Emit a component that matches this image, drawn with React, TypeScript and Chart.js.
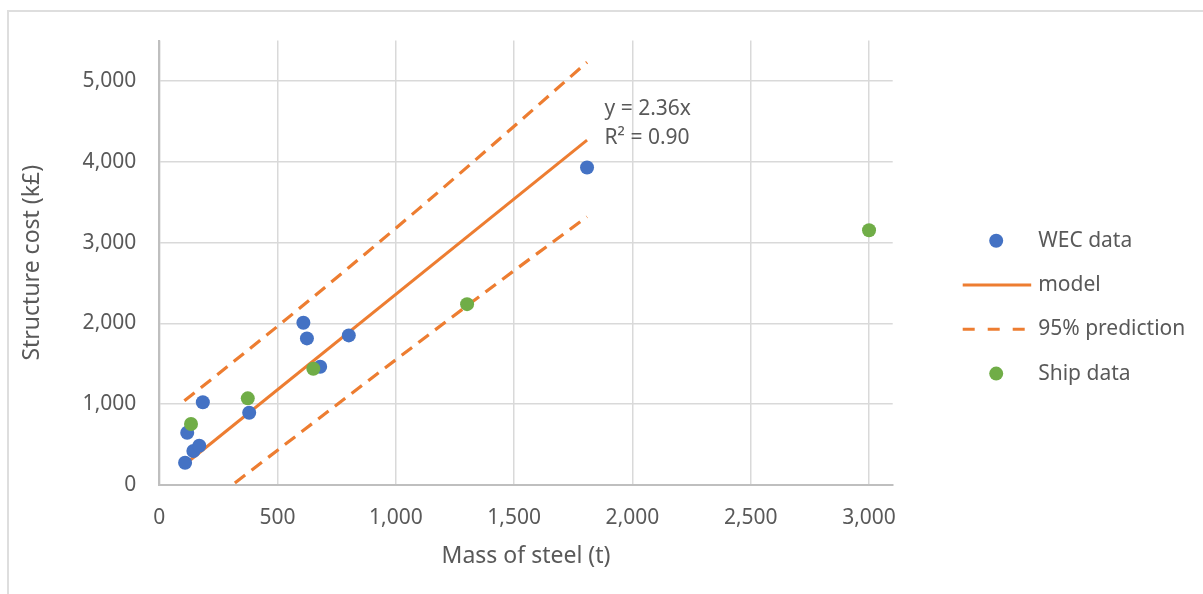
import { useEffect, useRef } from "react";
import { Chart, registerables } from "chart.js";
Chart.register(...registerables);

const FONT = "'Noto Sans', 'DejaVu Sans', sans-serif";
const TEXT = "#595959";
const BLUE = "#4472C4";
const ORANGE = "#ED7D31";
const GREEN = "#70AD47";

// WEC data (mass of steel t, structure cost k£)
const wecMass = [109, 118, 144, 169, 184, 380, 609, 624, 680, 801, 1808];
const wecCost = [276, 647, 420, 486, 1023, 894, 2007, 1814, 1463, 1851, 3929];

// Ship data
const shipMass = [134, 374, 651, 1301, 3000];
const shipCost = [754, 1072, 1438, 2238, 3153];

// Model trend line y = 2.36x over WEC data range
const modelMass = [109, 1808];
const modelCost = [257, 4267];

// 95% prediction band
const bandMass = [106, 300, 500, 800, 1100, 1400, 1808];
const upperCost = [1042, 1493, 1964, 2688, 3426, 4184, 5231];
const lowerCost = [-440, -17, 431, 1104, 1773, 2435, 3320];

// Axis ticks
const xTickValues = [0, 500, 1000, 1500, 2000, 2500, 3000];
const yTickValues = [0, 1000, 2000, 3000, 4000, 5000];

const legendLabels = ["WEC data", "model", "95% prediction", "Ship data"];
const equationText = ["y = 2.36x", "R\u00B2 = 0.90"];
const xTitle = "Mass of steel (t)";
const yTitle = "Structure cost (k\u00A3)";

const toPts = (xs: number[], ys: number[]) => xs.map((x, i) => ({ x, y: ys[i] }));

const legendPlugin = {
  id: "excelLegend",
  afterDraw(chart: any) {
    const ctx = chart.ctx as CanvasRenderingContext2D;
    const ca = chart.chartArea;
    const lineStart = ca.right + 70;
    const lineEnd = ca.right + 138.5;
    const dotX = ca.right + 103.5;
    const textX = ca.right + 145.5;
    const rowY0 = 240.7;
    const step = 44.3;
    ctx.save();
    ctx.font = `21px ${FONT}`;
    ctx.fillStyle = TEXT;
    ctx.textBaseline = "middle";
    ctx.textAlign = "left";
    legendLabels.forEach((label, i) => {
      const y = rowY0 + i * step;
      ctx.save();
      if (i === 0 || i === 3) {
        ctx.fillStyle = i === 0 ? BLUE : GREEN;
        ctx.beginPath();
        ctx.arc(dotX, y, 7, 0, Math.PI * 2);
        ctx.fill();
      } else {
        ctx.strokeStyle = ORANGE;
        ctx.lineWidth = 3;
        ctx.setLineDash(i === 2 ? [12, 13] : []);
        ctx.beginPath();
        ctx.moveTo(lineStart, y);
        ctx.lineTo(lineEnd, y);
        ctx.stroke();
      }
      ctx.restore();
      ctx.fillText(label, textX, y);
    });
    ctx.restore();
  },
};

const equationPlugin = {
  id: "equation",
  afterDatasetsDraw(chart: any) {
    const ctx = chart.ctx as CanvasRenderingContext2D;
    const xs = chart.scales.x;
    const ys = chart.scales.y;
    const px = xs.getPixelForValue(modelMass[1]);
    const py = ys.getPixelForValue(modelCost[1]);
    ctx.save();
    ctx.font = `21px ${FONT}`;
    ctx.fillStyle = TEXT;
    ctx.textBaseline = "middle";
    ctx.textAlign = "left";
    ctx.fillText(equationText[0], px + 17.5, py - 31);
    ctx.fillText(equationText[1], px + 17.5, py - 2);
    ctx.restore();
  },
};

export default function App() {
  const ref = useRef<HTMLCanvasElement>(null);
  useEffect(() => {
    document.body.style.overflow = "hidden";
    const chart = new Chart(ref.current!, {
      type: "scatter",
      data: {
        datasets: [
          {
            label: "Ship data",
            data: toPts(shipMass, shipCost),
            backgroundColor: GREEN,
            borderColor: GREEN,
            pointRadius: 7,
            pointBorderWidth: 0,
            order: 0,
          },
          {
            label: "WEC data",
            data: toPts(wecMass, wecCost),
            backgroundColor: BLUE,
            borderColor: BLUE,
            pointRadius: 7,
            pointBorderWidth: 0,
            order: 1,
          },
          {
            type: "line",
            label: "model",
            data: toPts(modelMass, modelCost),
            borderColor: ORANGE,
            borderWidth: 3,
            pointRadius: 0,
            showLine: true,
            fill: false,
            order: 2,
          },
          {
            type: "line",
            label: "95% prediction",
            data: toPts(bandMass, upperCost),
            borderColor: ORANGE,
            borderWidth: 3.2,
            borderDash: [13, 8],
            pointRadius: 0,
            showLine: true,
            fill: false,
            cubicInterpolationMode: "monotone",
            order: 3,
          },
          {
            type: "line",
            label: "95% prediction (lower)",
            data: toPts(bandMass, lowerCost),
            borderColor: ORANGE,
            borderWidth: 3.2,
            borderDash: [13, 8],
            pointRadius: 0,
            showLine: true,
            fill: false,
            cubicInterpolationMode: "monotone",
            order: 4,
          },
        ] as any,
      },
      options: {
        animation: false,
        responsive: false,
        maintainAspectRatio: false,
        locale: "en-US",
        layout: { padding: { top: 40.5, right: 310.3, left: 0, bottom: 0 } },
        plugins: {
          legend: { display: false },
          tooltip: { enabled: false },
        },
        scales: {
          x: {
            type: "linear",
            min: 0,
            max: 3100,
            afterBuildTicks: (s: any) => {
              s.ticks = xTickValues.map((v) => ({ value: v }));
            },
            ticks: {
              color: TEXT,
              font: { family: FONT, size: 21 },
              padding: 20,
              maxRotation: 0,
              autoSkip: false,
            },
            grid: { color: "#d9d9d9", lineWidth: 1.5, drawTicks: false },
            border: { color: "#bfbfbf", width: 2 },
            title: {
              display: true,
              text: xTitle,
              color: TEXT,
              font: { family: FONT, size: 23 },
              padding: { top: 0, bottom: 24 },
            },
            afterFit: (s: any) => {
              s.height = 109;
              s.paddingLeft = 0;
              s.paddingRight = 0;
            },
          },
          y: {
            type: "linear",
            min: 0,
            max: 5500,
            afterBuildTicks: (s: any) => {
              s.ticks = yTickValues.map((v) => ({ value: v }));
            },
            ticks: {
              color: TEXT,
              font: { family: FONT, size: 21 },
              padding: 23,
              autoSkip: false,
            },
            grid: { color: "#d9d9d9", lineWidth: 1.5, drawTicks: false },
            border: { color: "#bfbfbf", width: 2 },
            title: {
              display: true,
              text: yTitle,
              color: TEXT,
              font: { family: FONT, size: 23 },
              padding: { top: 19, bottom: 0 },
            },
            afterFit: (s: any) => {
              s.width = 159.3;
              s.paddingTop = 0;
              s.paddingBottom = 0;
            },
          },
        },
      },
      plugins: [legendPlugin, equationPlugin],
    });
    return () => chart.destroy();
  }, []);

  return (
    <div
      style={{
        position: "fixed",
        left: 0,
        top: 0,
        width: 1203,
        height: 594,
        background: "#fff",
        overflow: "hidden",
      }}
    >
      <div
        style={{
          position: "absolute",
          left: 7,
          top: 10,
          width: 1300,
          height: 700,
          borderTop: "2px solid #dedede",
          borderLeft: "2px solid #dedede",
        }}
      />
      <canvas
        ref={ref}
        width={1203}
        height={594}
        style={{ position: "absolute", left: 0, top: 0, width: 1203, height: 594 }}
      />
    </div>
  );
}
